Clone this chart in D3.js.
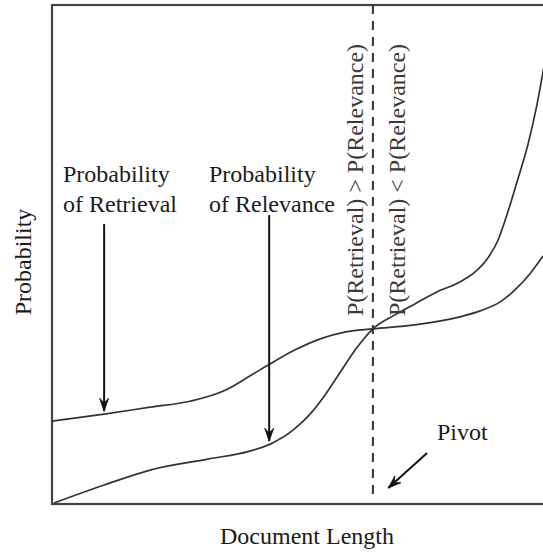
<!DOCTYPE html>
<html><head><meta charset="utf-8">
<script src="https://cdn.jsdelivr.net/npm/d3@7"></script>
<style>
html,body{margin:0;padding:0;background:#fff;}
svg{display:block;}
text{font-family:"Liberation Serif","Times New Roman",serif;}
</style></head>
<body>
<svg id="chart" width="543" height="555"></svg>
<script>
// Document length (0..10) and probability (0..1)
const retrievalX = [0, 1.02, 1.92, 2.70, 3.39, 3.88, 4.27, 4.76, 5.25, 5.75, 6.28, 7.10, 7.98, 8.38, 8.77, 9.06, 9.35, 9.61];
const retrievalY = [0.166, 0.180, 0.194, 0.206, 0.228, 0.257, 0.281, 0.309, 0.331, 0.345, 0.351, 0.359, 0.375, 0.387, 0.405, 0.429, 0.461, 0.497];
const relevanceX = [0.04, 1.02, 1.92, 3.05, 3.87, 4.27, 4.74, 5.05, 5.34, 5.64, 5.95, 6.28, 6.71, 7.10, 7.53, 7.98, 8.28, 8.53, 8.73, 8.92, 9.11, 9.31, 9.49, 9.65];
const relevanceY = [0.002, 0.038, 0.068, 0.090, 0.106, 0.120, 0.150, 0.180, 0.218, 0.264, 0.311, 0.351, 0.379, 0.401, 0.425, 0.445, 0.465, 0.493, 0.529, 0.585, 0.649, 0.719, 0.800, 0.890];
const pivotX = 6.28;
const xLabel = "Document Length";
const yLabel = "Probability";
const labelRetrieval = ["Probability", "of Retrieval"];
const labelRelevance = ["Probability", "of Relevance"];
const sideLabels = ["P(Retrieval) > P(Relevance)", "P(Retrieval) < P(Relevance)"];
const pivotLabel = "Pivot";
// annotation arrows: [x0, y0, x1, y1] in data units
const arrowRetrieval = [1.02, 0.561, 1.02, 0.186];
const arrowRelevance = [4.25, 0.579, 4.25, 0.126];
const arrowPivot = [7.34, 0.102, 6.58, 0.032];

const svg = d3.select("#chart");
const x = d3.scaleLinear().domain([0, 10]).range([52, 563]);
const y = d3.scaleLinear().domain([0, 1]).range([504, 5]);

const defs = svg.append("defs");
defs.append("marker").attr("id", "ah")
  .attr("viewBox", "-14 -7 16 14").attr("refX", 0).attr("refY", 0)
  .attr("markerWidth", 16).attr("markerHeight", 14)
  .attr("markerUnits", "userSpaceOnUse").attr("orient", "auto")
  .append("path").attr("d", "M0,0 L-13,-4.5 L-8,0 L-13,4.5 Z")
  .attr("fill", "#111").attr("stroke", "#111").attr("stroke-width", 0.8);

// frame
svg.append("rect")
  .attr("x", x(0)).attr("y", y(1))
  .attr("width", x(10) - x(0)).attr("height", y(0) - y(1))
  .attr("fill", "none").attr("stroke", "#444").attr("stroke-width", 2.2);

// pivot dashed line
svg.append("line")
  .attr("x1", x(pivotX)).attr("x2", x(pivotX))
  .attr("y1", y(1)).attr("y2", y(0) - 8)
  .attr("stroke", "#333").attr("stroke-width", 2)
  .attr("stroke-dasharray", "9,7");

const line = d3.line().x(d => x(d[0])).y(d => y(d[1])).curve(d3.curveMonotoneX);
const retrieval = retrievalX.map((v, i) => [v, retrievalY[i]]);
const relevance = relevanceX.map((v, i) => [v, relevanceY[i]]);

[retrieval, relevance].forEach(data => {
  svg.append("path").datum(data).attr("d", line)
    .attr("fill", "none").attr("stroke", "#333").attr("stroke-width", 1.7);
});

// arrows
[arrowRetrieval, arrowRelevance, arrowPivot].forEach(a => {
  svg.append("line")
    .attr("x1", x(a[0])).attr("y1", y(a[1]))
    .attr("x2", x(a[2])).attr("y2", y(a[3]))
    .attr("stroke", "#111").attr("stroke-width", 2)
    .attr("marker-end", "url(#ah)");
});

// labels
function twoLine(lines, px, py) {
  const t = svg.append("text").attr("x", px).attr("y", py)
    .attr("font-size", 24).attr("fill", "#1a1a1a");
  lines.forEach((s, i) => t.append("tspan").attr("x", px).attr("dy", i === 0 ? 0 : 30).text(s));
}
twoLine(labelRetrieval, 63, 182);
twoLine(labelRelevance, 209, 182);

const sideX = [363, 405];
sideLabels.forEach((s, i) => {
  svg.append("text")
    .attr("transform", `translate(${sideX[i]},316) rotate(-90)`)
    .attr("font-size", 24).attr("fill", "#3a3a3a")
    .text(s);
});

svg.append("text").attr("x", 437).attr("y", 440)
  .attr("font-size", 24).attr("fill", "#1a1a1a").text(pivotLabel);

svg.append("text").attr("x", 307).attr("y", 544)
  .attr("text-anchor", "middle").attr("font-size", 24).attr("fill", "#1a1a1a").text(xLabel);

svg.append("text").attr("transform", "translate(31,262) rotate(-90)")
  .attr("text-anchor", "middle").attr("font-size", 24).attr("fill", "#1a1a1a").text(yLabel);
</script>
</body></html>
